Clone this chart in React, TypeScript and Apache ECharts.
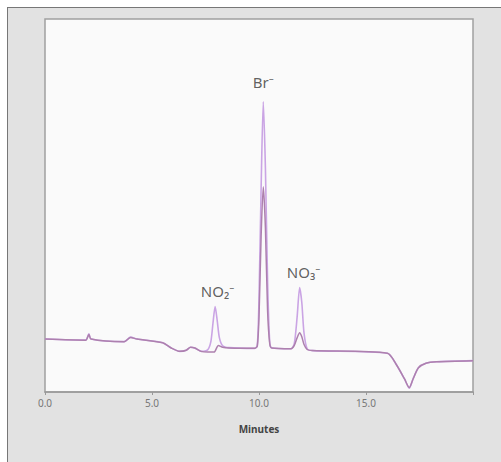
import React, { useEffect, useRef } from "react";
import * as echarts from "echarts";

// Retention time (minutes) for both traces
const timesA = [0, 1.9, 2.05, 2.15, 3.7, 4.0, 4.3, 5.5, 5.9, 6.3, 6.6, 6.8, 7.0, 7.3, 7.6, 7.75, 7.85, 7.95, 8.05, 8.15, 8.3, 8.6, 9.8, 9.92, 10.0, 10.1, 10.2, 10.3, 10.4, 10.5, 10.6, 11.5, 11.65, 11.78, 11.9, 12.0, 12.1, 12.25, 12.5, 16.0, 16.4, 16.8, 17.02, 17.2, 17.45, 17.8, 18.3, 20];
const valuesA = [14.2, 13.9, 15.6, 14.2, 13.5, 14.7, 14.2, 13.2, 11.8, 10.9, 11.2, 12.0, 11.8, 10.9, 11.3, 13.5, 18.5, 22.9, 19.0, 14.5, 12.4, 11.9, 11.7, 12.5, 25, 55, 77.8, 60, 30, 13.5, 11.8, 11.6, 13, 20, 28.0, 24, 16, 11.6, 11.1, 10.4, 7.5, 3.5, 1.0, 3.5, 6.5, 7.7, 8.1, 8.4];

const timesB = [0, 1.9, 2.05, 2.15, 3.7, 4.0, 4.3, 5.5, 5.9, 6.3, 6.6, 6.8, 7.0, 7.3, 7.6, 7.9, 8.1, 8.3, 8.6, 9.8, 9.92, 10.0, 10.1, 10.2, 10.3, 10.4, 10.5, 10.6, 11.5, 11.65, 11.78, 11.9, 12.0, 12.1, 12.25, 12.5, 16.0, 16.4, 16.8, 17.02, 17.2, 17.45, 17.8, 18.3, 20];
const valuesB = [14.2, 13.9, 15.4, 14.2, 13.5, 14.6, 14.2, 13.2, 11.8, 10.9, 11.2, 12.0, 11.8, 10.9, 10.7, 10.7, 12.5, 12.0, 11.8, 11.7, 12.3, 20, 42, 55.0, 44, 22, 13, 11.8, 11.6, 12.5, 14.5, 15.9, 14.8, 12.8, 11.4, 11.1, 10.4, 7.5, 3.5, 1.2, 3.5, 6.5, 7.7, 8.1, 8.4];

const peakNames = ["NO₂⁻", "Br⁻", "NO₃⁻"];
const peakLabelX = [8.06, 10.2, 12.08];
const peakLabelY = [27.1, 83.1, 32.2];

const xTicks = [0, 5, 10, 15];

export default function App() {
  const ref = useRef<HTMLDivElement>(null);
  useEffect(() => {
    if (!ref.current) return;
    const chart = echarts.init(ref.current, undefined, { renderer: "svg" });
    chart.setOption({
      animation: false,
      grid: {
        left: 45,
        top: 19,
        width: 428,
        height: 373,
        show: true,
        backgroundColor: "#fafafa",
        borderColor: "#a0a0a0",
        borderWidth: 1.5,
      },
      xAxis: {
        type: "value",
        min: 0,
        max: 20,
        interval: 5,
        name: "Minutes",
        nameLocation: "middle",
        nameGap: 32,
        nameTextStyle: { fontFamily: "Noto Sans", fontSize: 10, fontWeight: "bold", color: "#444" },
        axisLine: { show: true, lineStyle: { color: "#999", width: 1.5 } },
        axisTick: { show: true, length: 3, lineStyle: { color: "#999" } },
        splitLine: { show: false },
        axisLabel: {
          fontFamily: "Noto Sans",
          fontSize: 10,
          color: "#777",
          margin: 6,
          formatter: (v: number) => (xTicks.includes(v) ? v.toFixed(1) : ""),
        },
      },
      yAxis: {
        type: "value",
        min: 0,
        max: 100,
        show: false,
        splitLine: { show: false },
      },
      series: [
        {
          type: "line",
          data: timesA.map((t, i) => [t, valuesA[i]]),
          showSymbol: false,
          symbol: "none",
          smooth: 0.25,
          lineStyle: { color: "#caa4e4", width: 1.6 },
          z: 2,
        },
        {
          type: "line",
          data: timesB.map((t, i) => [t, valuesB[i]]),
          showSymbol: false,
          symbol: "none",
          smooth: 0.25,
          lineStyle: { color: "#ad80ae", width: 1.5 },
          z: 3,
        },
        {
          type: "scatter",
          symbolSize: 0,
          data: peakNames.map((n, i) => ({ value: [peakLabelX[i], peakLabelY[i]], name: n })),
          label: {
            show: true,
            position: "inside",
            formatter: (p: any) => p.name,
            fontFamily: "Noto Sans",
            fontSize: 15,
            color: "#383838",
          },
          z: 5,
        },
      ],
    });
    return () => chart.dispose();
  }, []);
  return (
    <div style={{ position: "fixed", left: 0, top: 0, width: 501, height: 462, background: "#fff" }}>
      <div
        style={{
          position: "absolute",
          left: 7,
          top: 7,
          width: 494,
          height: 455,
          background: "#e2e2e2",
          borderTop: "1.5px solid #777",
          borderLeft: "1.5px solid #777",
          boxSizing: "border-box",
        }}
      />
      <div ref={ref} style={{ position: "absolute", left: 0, top: 0, width: 501, height: 462 }} />
    </div>
  );
}
